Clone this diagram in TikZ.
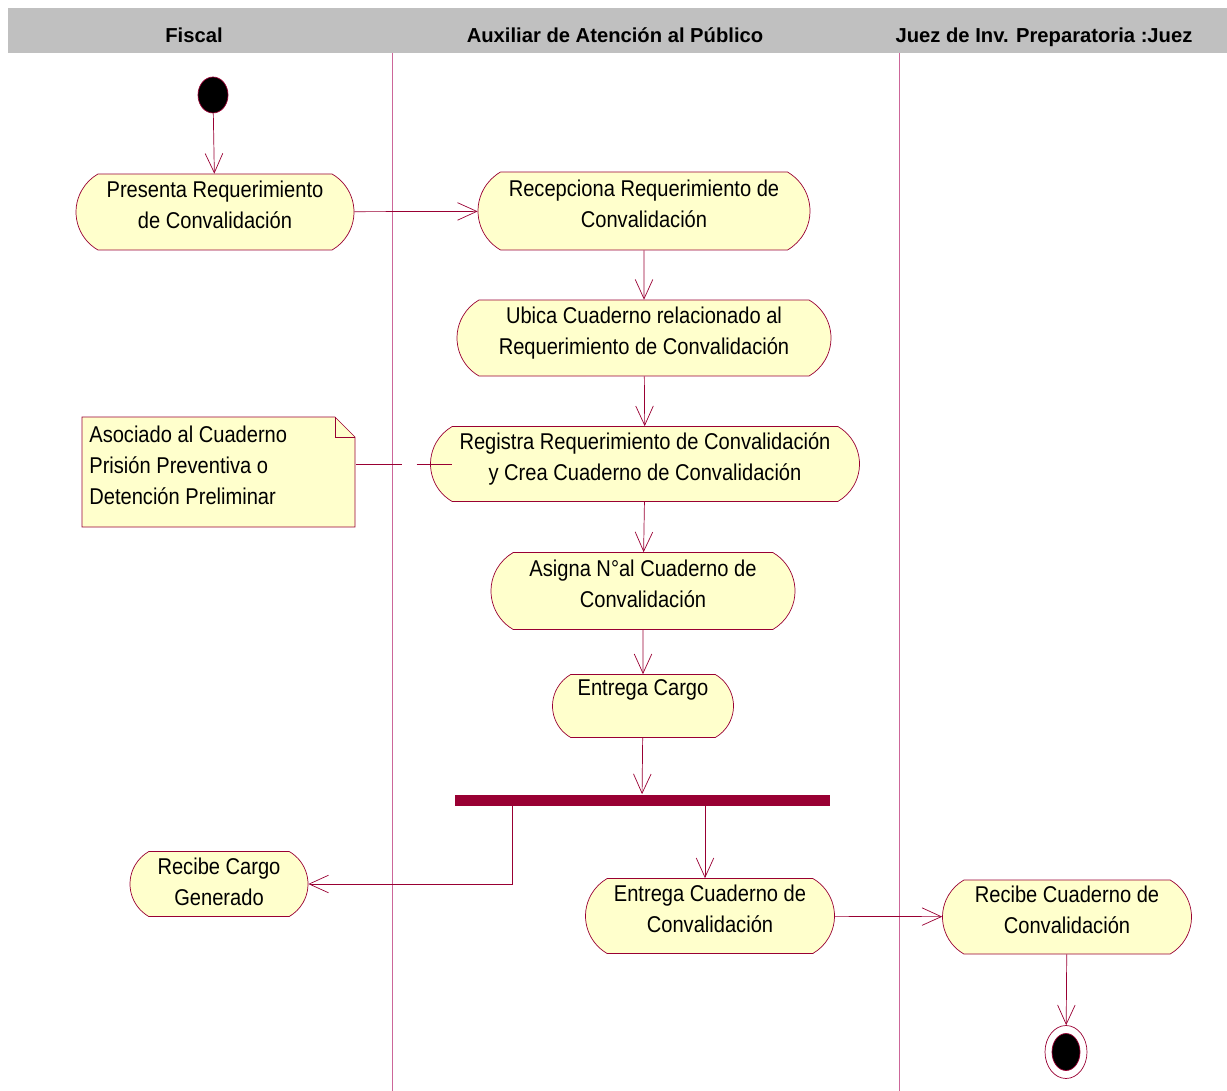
\documentclass[tikz,border=0pt]{standalone}
\usepackage{fontspec}
\setmainfont[FakeStretch=0.88]{Liberation Sans}
\newfontfamily\lanefont{Liberation Sans}
\usetikzlibrary{shapes.misc,shapes.geometric,arrows.meta}

\definecolor{rose}{HTML}{990033}
\definecolor{lanecol}{HTML}{CC6699}
\definecolor{actfill}{HTML}{FFFFCC}
\definecolor{band}{HTML}{C0C0C0}

\tikzset{
	act/.style={rounded rectangle, rounded rectangle arc length=120, draw=rose, fill=actfill, align=center, inner sep=0pt, text depth=8pt, font=\fontsize{13}{17.6}\selectfont},
	sz/.style 2 args={minimum width=#1*0.02cm, minimum height=#2*0.02cm},
	flow/.style={draw=rose, -{Straight Barb[length=11pt,width=10pt]}},
	lanehead/.style={font=\lanefont\bfseries\fontsize{11.5}{13}\selectfont, text height=8.5pt, text depth=2.5pt},
}

\begin{document}
\begin{tikzpicture}[x=0.02cm,y=-0.02cm]
		\useasboundingbox (0,0) rectangle (1227,1091);
		% swimlanes
		\fill[band] (8,8) rectangle (1227,53);
		\node[lanehead] (fiscal) at (194,37) {Fiscal};
		\node[lanehead] (aux) at (615,37) {Auxiliar de Atención al Público};
		\node[lanehead] (juez) at (1044,37) {Juez de Inv. Preparatoria :Juez};
		\draw[lanecol] (392,53) -- (392,1091);
		\draw[lanecol] (899,53) -- (899,1091);

		\node[ellipse, draw=rose, fill=black, inner sep=0pt, sz={30}{36}] (start) at (213,95) {};
		\node[act, sz={278}{76}] (presenta) at (215,212) {Presenta Requerimiento\\de Convalidación};
		\node[act, sz={332}{78}] (recep) at (644,211) {Recepciona Requerimiento de\\Convalidación};
		\node[act, sz={374}{76}] (ubica) at (644,338) {Ubica Cuaderno relacionado al\\Requerimiento de Convalidación};
		\node[act, sz={429}{75}] (registra) at (645,464) {Registra Requerimiento de Convalidación\\y Crea Cuaderno de Convalidación};
		\node[act, sz={304}{77}] (asigna) at (643,591) {Asigna N°al Cuaderno de\\Convalidación};
		\node[act, text depth=3pt, sz={181}{63}] (cargo) at (643,706) {Entrega Cargo\\~};
		\node[fill=rose, inner sep=0pt, sz={375}{11}] (fork) at (642,800) {};
		\node[act, text depth=3pt, sz={178}{65}] (recCargo) at (219,884) {Recibe Cargo\\Generado};
		\node[act, sz={249}{75}] (entCuad) at (710,916) {Entrega Cuaderno de\\Convalidación};
		\node[act, sz={249}{74}] (recCuad) at (1067,917) {Recibe Cuaderno de\\Convalidación};
		\node[ellipse, draw=rose, fill=white, inner sep=0pt, sz={42}{53}] (fin) at (1066,1052) {};
		\node[ellipse, draw=rose, fill=black, inner sep=0pt, sz={28}{37}] (finDot) at (fin) {};

		% note
		\fill[actfill, draw=rose] (82,417) -- (335,417) -- (355,437) -- (355,527) -- (82,527) -- cycle;
		\draw[rose] (335,417) -- (335,437) -- (355,437);
		\node[anchor=north west, align=left, inner sep=0pt, font=\fontsize{13}{17.6}\selectfont] (note) at (89,426) {Asociado al Cuaderno\\Prisión Preventiva o\\Detención Preliminar};
		\coordinate (noteE) at (356,464);
		\draw[rose, dash pattern=on 26pt off 8.5pt] (noteE) -- ([xshift=0.44cm]registra.west);

		\coordinate (forkL) at (512,805);
		\coordinate (forkR) at (705,805);
		\draw[flow] (start) -- (presenta);
		\draw[flow] (presenta) -- (recep);
		\draw[flow] (recep) -- (ubica);
		\draw[flow] (ubica) -- (registra);
		\draw[flow] (registra) -- (asigna);
		\draw[flow] (asigna) -- (cargo);
		\draw[flow] (cargo) -- (fork);
		\draw[flow] (forkL) |- (recCargo.east);
		\draw[flow] (forkR) -- (forkR |- entCuad.north);
		\draw[flow] (entCuad) -- (recCuad);
		\draw[flow] (recCuad) -- (fin);
		% \draw[flow] (fork) -- (recCargo);
	\end{tikzpicture}
\end{document}
